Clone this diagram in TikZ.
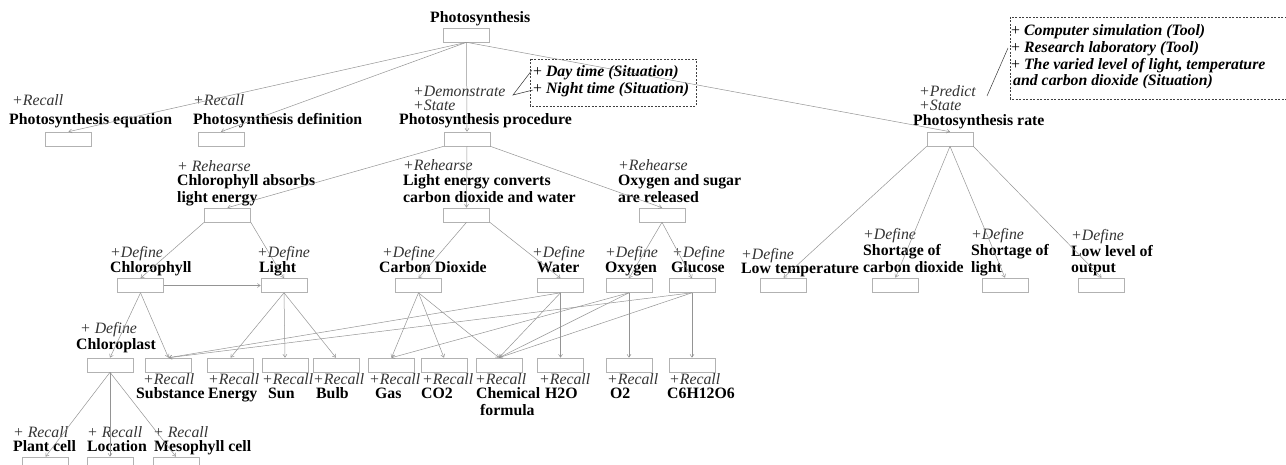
\documentclass[tikz,border=0pt]{standalone}
\usepackage{fontspec}
\setmainfont{Liberation Serif}
\usetikzlibrary{arrows.meta}
\newcommand\myfs{\fontsize{15.8}{17}\selectfont}
\newcommand\myfi{\fontsize{15.8}{17}\selectfont}
\begin{document}
\begin{tikzpicture}[x=1pt,y=-1pt,
  box/.style={draw=black!30, line width=0.6pt, minimum width=46pt, minimum height=14pt, inner sep=0pt},
  edge/.style={draw=black!42, line width=0.5pt, -{Straight Barb[length=3pt,width=4pt]}},
  brk/.style={draw=black!80, line width=0.5pt},
  nm/.style={anchor=base west, inner sep=0pt, font=\bfseries\myfs},
  role/.style={anchor=base west, inner sep=0pt, font=\itshape\myfi, text=black!80},
  sit/.style={anchor=base west, inner sep=0pt, font=\bfseries\itshape\myfi},
  dbox/.style={draw=black!75, dash pattern=on 2pt off 1.5pt, line width=0.5pt}]
\useasboundingbox (0,0) rectangle (1286,465);
% ---------- boxes
\node[box] (ps) at (466.5,35) {};
\node[box] (peq) at (68.5,139) {};
\node[box] (pdef) at (221,139) {};
\node[box] (pproc) at (467,139) {};
\node[box] (prate) at (950,139) {};
\node[box] (cala) at (227.5,215) {};
\node[box] (lec) at (466.5,215) {};
\node[box] (osr) at (662,215) {};
\node[box] (chl) at (140.5,285.5) {};
\node[box] (light) at (284,285.5) {};
\node[box] (cd) at (418.5,285.5) {};
\node[box] (water) at (560.5,285.5) {};
\node[box] (oxy) at (629,285.5) {};
\node[box] (glu) at (692,285.5) {};
\node[box] (lowt) at (783.5,285) {};
\node[box] (sco2) at (895.5,285) {};
\node[box] (slight) at (1005,285) {};
\node[box] (lout) at (1101.5,285) {};
\node[box] (chlp) at (110,365) {};
\node[box] (subst) at (168.5,365) {};
\node[box] (energy) at (230.5,365) {};
\node[box] (sun) at (285,365) {};
\node[box] (bulb) at (336,365) {};
\node[box] (gas) at (391.5,365) {};
\node[box] (co2) at (444,365) {};
\node[box] (chem) at (499,365) {};
\node[box] (h2o) at (560.5,365) {};
\node[box] (o2) at (629,365) {};
\node[box] (c6) at (692,365) {};
\node[box] (pcell) at (45.5,464) {};
\node[box] (loc) at (110,464) {};
\node[box] (meso) at (176,464) {};
% ---------- labels level 0/1
\node[nm] (ps-t) at (430,23) {Photosynthesis};
\node[role] (peq-r) at (12,106) {+Recall};
\node[nm] (peq-t) at (9,125) {Photosynthesis equation};
\node[role] (pdef-r) at (193,106) {+Recall};
\node[nm] (pdef-t) at (193,125) {Photosynthesis definition};
\node[role] (pproc-r1) at (413,97) {+Demonstrate};
\node[role] (pproc-r2) at (413,111) {+State};
\node[nm] (pproc-t) at (399,125) {Photosynthesis procedure};
\node[role] (prate-r1) at (919,97) {+Predict};
\node[role] (prate-r2) at (919,111) {+State};
\node[nm] (prate-t) at (913,126) {Photosynthesis rate};
% situation boxes
\draw[dbox] (530,59) rectangle (696,106);
\node[sit] (s1) at (533,77) {{\mdseries\upshape +} Day time (Situation)};
\node[sit] (s2) at (533,94) {{\mdseries\upshape +} Night time (Situation)};
\coordinate (dem) at (513,95);
\coordinate (s1p) at (532,70);
\coordinate (s2p) at (533,90);
\draw[brk] (s1p) -- (dem) -- (s2p);
\draw[dbox] (1010,17) rectangle (1292,99);
\node[sit] (t1) at (1011,36) {{\mdseries\upshape +} Computer simulation (Tool)};
\node[sit] (t2) at (1011,53) {{\mdseries\upshape +} Research laboratory (Tool)};
\node[sit] (t3) at (1011,70) {{\mdseries\upshape +} The varied level of light, temperature};
\node[sit] (t4) at (1013,86) {and carbon dioxide (Situation)};
\coordinate (prd) at (987,96);
\coordinate (t2p) at (1008,48);
\draw[brk] (prd) -- (t2p);
% ---------- level 2
\node[role] (cala-r) at (177,172) {+ Rehearse};
\node[nm] (cala-t1) at (177,186) {Chlorophyll absorbs};
\node[nm] (cala-t2) at (177,203) {light energy};
\node[role] (lec-r) at (403,171) {+Rehearse};
\node[nm] (lec-t1) at (403,186) {Light energy converts};
\node[nm] (lec-t2) at (403,203) {carbon dioxide and water};
\node[role] (osr-r) at (618,171) {+Rehearse};
\node[nm] (osr-t1) at (618,186) {Oxygen and sugar};
\node[nm] (osr-t2) at (618,203) {are released};
% ---------- level 3
\node[role] (chl-r) at (110,258) {+Define};
\node[nm] (chl-t) at (110,273) {Chlorophyll};
\node[role] (light-r) at (257,258) {+Define};
\node[nm] (light-t) at (259,273) {Light};
\node[role] (cd-r) at (382,258) {+Define};
\node[nm] (cd-t) at (379,273) {Carbon Dioxide};
\node[role] (water-r) at (532,258) {+Define};
\node[nm] (water-t) at (537,273) {Water};
\node[role] (oxy-r) at (605,258) {+Define};
\node[nm] (oxy-t) at (605,273) {Oxygen};
\node[role] (glu-r) at (672,258) {+Define};
\node[nm] (glu-t) at (671,273) {Glucose};
\node[role] (lowt-r) at (741,260) {+Define};
\node[nm] (lowt-t) at (741,274) {Low temperature};
\node[role] (sco2-r) at (863,240) {+Define};
\node[nm] (sco2-t1) at (863,256) {Shortage of};
\node[nm] (sco2-t2) at (863,273) {carbon dioxide};
\node[role] (slight-r) at (971,240) {+Define};
\node[nm] (slight-t1) at (971,256) {Shortage of};
\node[nm] (slight-t2) at (971,273) {light};
\node[role] (lout-r) at (1071,241) {+Define};
\node[nm] (lout-t1) at (1071,257) {Low level of};
\node[nm] (lout-t2) at (1071,273) {output};
% ---------- bottom rows
\node[role] (chlp-r) at (80,334) {+ Define};
\node[nm] (chlp-t) at (76,349) {Chloroplast};
\node[role] (subst-r) at (143,384) {+Recall};
\node[nm] (subst-t) at (136,398) {Substance};
\node[role] (energy-r) at (208,384) {+Recall};
\node[nm] (energy-t) at (208,398) {Energy};
\node[role] (sun-r) at (262,384) {+Recall};
\node[nm] (sun-t) at (268,398) {Sun};
\node[role] (bulb-r) at (313,384) {+Recall};
\node[nm] (bulb-t) at (316,398) {Bulb};
\node[role] (gas-r) at (369,384) {+Recall};
\node[nm] (gas-t) at (375,398) {Gas};
\node[role] (co2-r) at (422,384) {+Recall};
\node[nm] (co2-t) at (421,398) {CO2};
\node[role] (chem-r) at (475,384) {+Recall};
\node[nm] (chem-t1) at (476,398) {Chemical};
\node[nm] (chem-t2) at (480,415) {formula};
\node[role] (h2o-r) at (539,384) {+Recall};
\node[nm] (h2o-t) at (545,398) {H2O};
\node[role] (o2-r) at (607,384) {+Recall};
\node[nm] (o2-t) at (610,398) {O2};
\node[role] (c6-r) at (669,384) {+Recall};
\node[nm] (c6-t) at (667,398) {C6H12O6};
\node[role] (pcell-r) at (13,437) {+ Recall};
\node[nm] (pcell-t) at (13,451) {Plant cell};
\node[role] (loc-r) at (87,437) {+ Recall};
\node[nm] (loc-t) at (87,451) {Location};
\node[role] (meso-r) at (153,437) {+ Recall};
\node[nm] (meso-t) at (154,451) {Mesophyll cell};
% ---------- edges
\draw[edge] (ps.south) -- (peq.north);
\draw[edge] (ps.south) -- (pdef.north);
\draw[edge] (ps.south) -- (pproc.north);
\draw[edge] (ps.south) -- (prate.north);
\draw[edge] (pproc.south west) -- (cala.north);
\draw[edge] (pproc.south) -- (lec.north);
\draw[edge] (pproc.south east) -- (osr.north);
\draw[edge] (cala.south west) -- (chl.north);
\draw[edge] (cala.south east) -- (light.north);
\draw[edge] (chl.east) -- (light.west);
\draw[edge] (lec.south) -- (cd.north);
\draw[edge] (lec.south east) -- (water.north);
\draw[edge] (osr.south) -- (oxy.north);
\draw[edge] (osr.south) -- (glu.north);
\draw[edge] (prate.south west) -- (lowt.north);
\draw[edge] (prate.south) -- (sco2.north);
\draw[edge] (prate.south) -- (slight.north);
\draw[edge] (prate.south east) -- (lout.north);
\draw[edge] (chl.south) -- (chlp.north);
\draw[edge] (chl.south) -- (subst.north);
\draw[edge] (light.south) -- (energy.north);
\draw[edge] (light.south) -- (sun.north);
\draw[edge] (light.south) -- (bulb.north);
\draw[edge] (cd.south) -- (gas.north);
\draw[edge] (cd.south) -- (co2.north);
\draw[edge] (cd.south) -- (chem.north);
\draw[edge] (water.south) -- (subst.north);
\draw[edge] (water.south) -- (chem.north);
\draw[edge] (water.south) -- (h2o.north);
\draw[edge] (oxy.south) -- (gas.north);
\draw[edge] (oxy.south) -- (chem.north);
\draw[edge] (oxy.south) -- (o2.north);
\draw[edge] (glu.south) -- (subst.north);
\draw[edge] (glu.south) -- (chem.north);
\draw[edge] (glu.south) -- (c6.north);
\draw[edge] (chlp.south) -- (pcell.north);
\draw[edge] (chlp.south) -- (loc.north);
\draw[edge] (chlp.south) -- (meso.north);
\end{tikzpicture}
\end{document}
